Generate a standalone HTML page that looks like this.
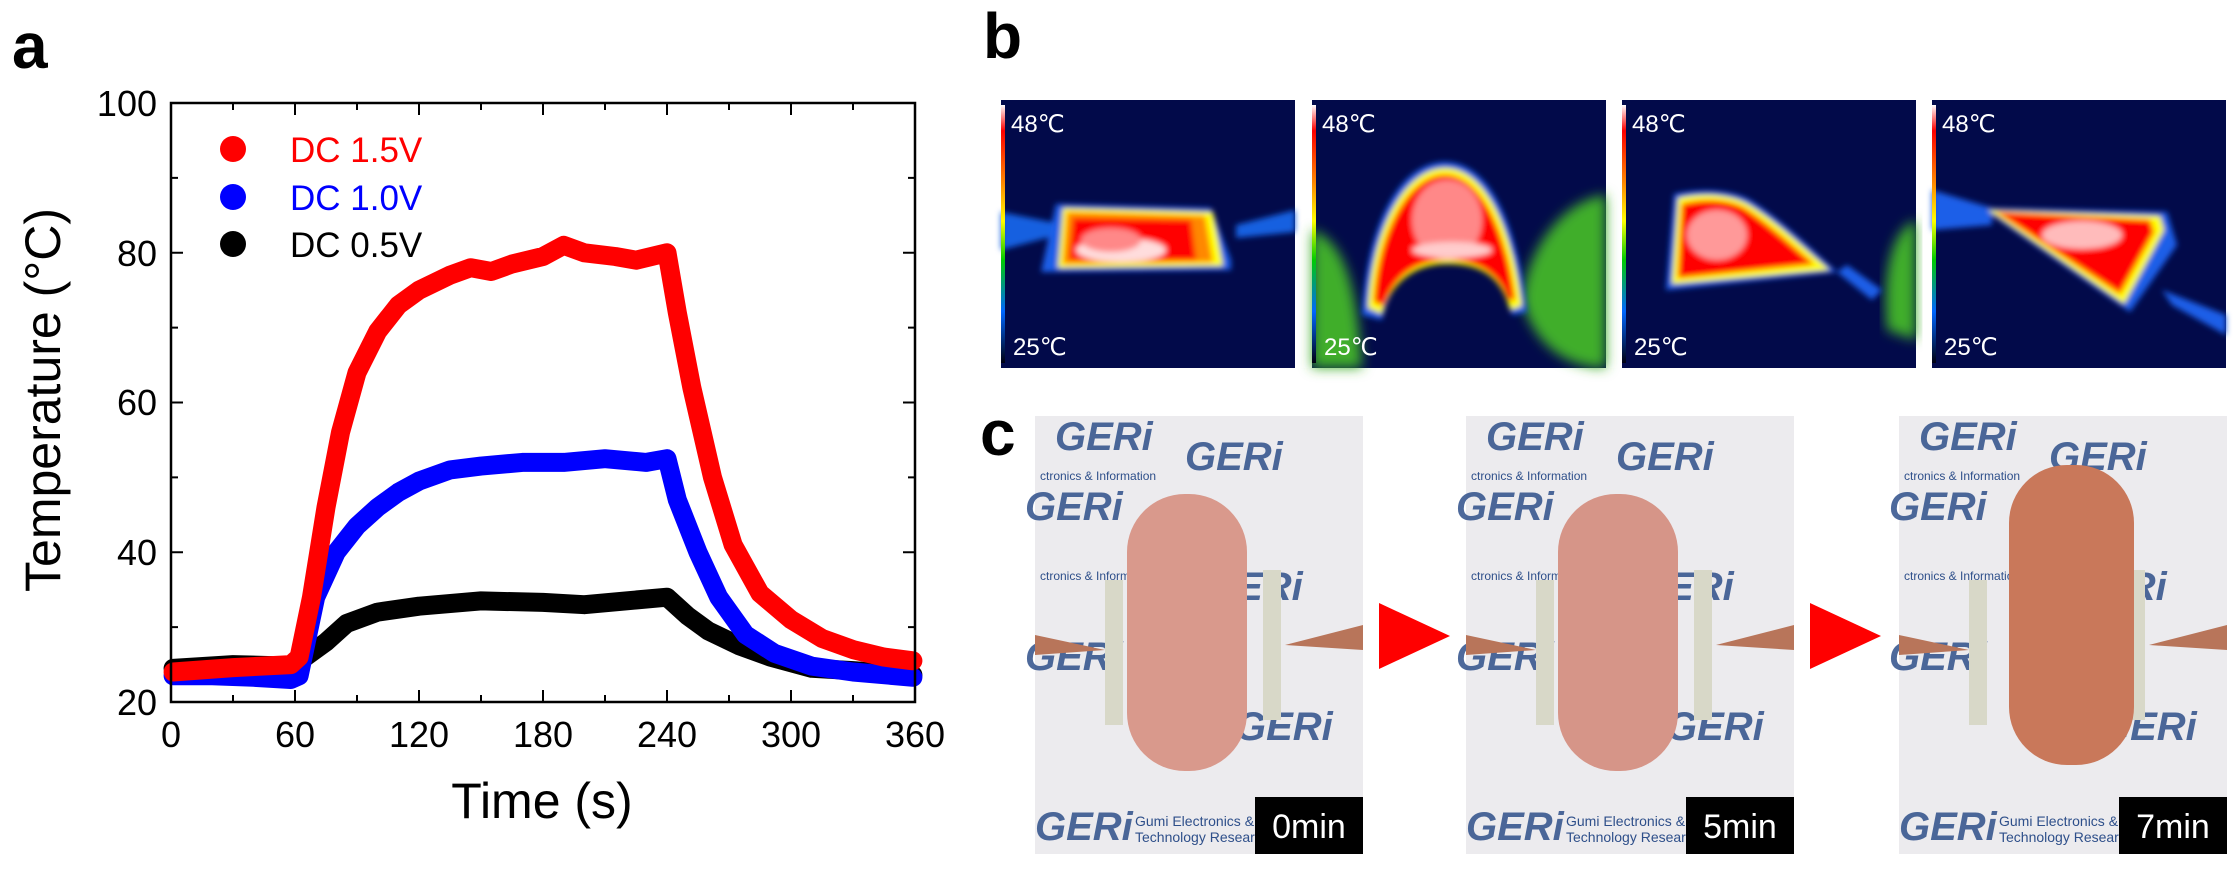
<!DOCTYPE html>
<html><head><meta charset="utf-8"><style>
body{margin:0;background:#fff;width:2238px;height:872px;overflow:hidden;position:relative;font-family:"Liberation Sans",sans-serif}
.abs{position:absolute}
</style></head><body>
<svg class="abs" style="left:0;top:0" width="2238" height="872" xmlns="http://www.w3.org/2000/svg">
<defs>
<filter id="bl" x="-20%" y="-20%" width="140%" height="140%"><feGaussianBlur stdDeviation="3"/></filter>
<filter id="bl2" x="-20%" y="-20%" width="140%" height="140%"><feGaussianBlur stdDeviation="6"/></filter>
<linearGradient id="cb" x1="0" y1="0" x2="0" y2="1">
<stop offset="0" stop-color="#fff"/><stop offset="0.1" stop-color="#f00"/><stop offset="0.3" stop-color="#f80"/><stop offset="0.45" stop-color="#ff0"/><stop offset="0.6" stop-color="#0c0"/><stop offset="0.8" stop-color="#06f"/><stop offset="1" stop-color="#001"/></linearGradient>
</defs>
<text x="12" y="68" font-size="64" font-weight="bold" font-family="Liberation Sans">a</text>
<g id="plot"></g>
<rect x="171" y="103" width="744" height="599" fill="none" stroke="#000" stroke-width="2.5"/>
<g id="ticks" stroke="#000" stroke-width="2"></g>
<g font-size="36" text-anchor="end" fill="#000">
<text x="157" y="715">20</text><text x="157" y="565">40</text><text x="157" y="415">60</text><text x="157" y="266">80</text><text x="157" y="116">100</text></g>
<g font-size="36" text-anchor="middle" fill="#000">
<text x="171" y="747">0</text><text x="295" y="747">60</text><text x="419" y="747">120</text><text x="543" y="747">180</text><text x="667" y="747">240</text><text x="791" y="747">300</text><text x="915" y="747">360</text></g>
<text x="542" y="818" font-size="50" text-anchor="middle">Time (s)</text>
<text transform="translate(60,400) rotate(-90)" font-size="50" text-anchor="middle">Temperature (°C)</text>
<circle cx="233" cy="149" r="13" fill="#f00"/><circle cx="233" cy="197" r="13" fill="#00f"/><circle cx="233" cy="244" r="13" fill="#000"/>
<g font-size="35"><text x="290" y="162" fill="#f00">DC 1.5V</text><text x="290" y="210" fill="#00f">DC 1.0V</text><text x="290" y="257" fill="#000">DC 0.5V</text></g>

<text x="983" y="58" font-size="64" font-weight="bold">b</text>
<g transform="translate(1001,100)">
<rect width="294" height="268" fill="#020a4a"/>
<g filter="url(#bl)">
<path d="M0,112 L60,124 L60,134 L0,150 Z" fill="#1560e0"/>
<path d="M294,110 L235,125 L235,138 L294,132 Z" fill="#1560e0"/>
<path d="M40,172 L230,170 L230,160 L210,108 L55,104 Z" fill="#1a5ee8"/>
<path d="M57,168 L222,166 L212,112 L62,108 Z" fill="#ff0"/>
<path d="M62,164 L212,162 L204,116 L66,112 Z" fill="#f80"/>
<path d="M68,160 L195,160 L190,120 L72,118 Z" fill="#f00"/>
<ellipse cx="120" cy="150" rx="45" ry="12" fill="#fdd"/>
<ellipse cx="110" cy="140" rx="30" ry="12" fill="#f88"/>
</g>
<rect x="0" y="5" width="4" height="258" fill="url(#cb)"/>
<text x="10" y="32" font-size="24" fill="#fff">48℃</text><text x="12" y="255" font-size="24" fill="#fff">25℃</text>
</g>
<g transform="translate(1312,100)">
<rect width="294" height="268" fill="#020a4a"/>
<g filter="url(#bl2)">
<path d="M0,130 C30,140 45,180 50,268 L0,268 Z" fill="#3fae2a"/>
<path d="M294,95 C250,100 215,150 210,200 C220,240 250,268 294,268 Z" fill="#3fae2a"/>
</g>
<g filter="url(#bl)">
<path d="M50,215 C55,120 90,62 133,62 C176,62 205,120 215,212 L200,215 C190,170 160,160 135,160 C105,160 80,175 70,220 Z" fill="#1a5ee8"/>
<path d="M56,208 C60,125 95,68 133,68 C172,68 200,125 210,206 L198,210 C188,170 160,164 135,164 C105,164 80,180 70,214 Z" fill="#ff0"/>
<path d="M62,202 C66,130 98,75 133,75 C168,75 194,130 203,200 L196,200 C186,170 160,160 135,160 C105,160 82,176 72,206 Z" fill="#f00"/>
<ellipse cx="135" cy="120" rx="35" ry="40" fill="#f88"/>
<ellipse cx="140" cy="150" rx="40" ry="8" fill="#fcc"/>
</g>
<rect x="0" y="5" width="4" height="258" fill="url(#cb)"/>
<text x="10" y="32" font-size="24" fill="#fff">48℃</text><text x="12" y="255" font-size="24" fill="#fff">25℃</text>
</g>
<g transform="translate(1622,100)">
<rect width="294" height="268" fill="#020a4a"/>
<g filter="url(#bl2)"><path d="M294,120 C270,130 260,170 265,230 L294,240 Z" fill="#3fae2a"/></g>
<g filter="url(#bl)">
<path d="M44,190 L52,94 C80,88 110,90 128,100 C160,120 190,150 215,172 Z" fill="#1a5ee8"/>
<path d="M215,172 L250,200 L260,190 L225,165 Z" fill="#1a5ee8"/>
<path d="M50,184 L56,98 C82,92 108,94 126,104 C156,122 184,150 208,170 Z" fill="#ff0"/>
<path d="M56,178 L60,104 C84,98 106,100 122,108 C150,126 172,148 192,164 Z" fill="#f00"/>
<ellipse cx="95" cy="135" rx="30" ry="25" fill="#f99"/>
</g>
<rect x="0" y="5" width="4" height="258" fill="url(#cb)"/>
<text x="10" y="32" font-size="24" fill="#fff">48℃</text><text x="12" y="255" font-size="24" fill="#fff">25℃</text>
</g>
<g transform="translate(1932,100)">
<rect width="294" height="268" fill="#020a4a"/>
<g filter="url(#bl)">
<path d="M0,90 L60,108 L60,125 L0,130 Z" fill="#1a5ee8"/>
<path d="M230,190 L294,215 L294,235 L240,205 Z" fill="#1a5ee8"/>
<path d="M50,108 L235,112 L245,145 L198,212 Z" fill="#1a5ee8"/>
<path d="M56,110 L228,116 L232,130 L192,204 Z" fill="#ff0"/>
<path d="M64,112 L218,120 L222,132 L188,194 Z" fill="#f00"/>
<ellipse cx="150" cy="135" rx="40" ry="14" fill="#fbb"/>
</g>
<rect x="0" y="5" width="4" height="258" fill="url(#cb)"/>
<text x="10" y="32" font-size="24" fill="#fff">48℃</text><text x="12" y="255" font-size="24" fill="#fff">25℃</text>
</g>

<text x="980" y="455" font-size="64" font-weight="bold">c</text>
<g id="photos"></g>
<polygon points="1379,603 1450,636 1379,669" fill="#f00"/>
<polygon points="1810,603 1881,636 1810,669" fill="#f00"/>
</svg>
<script>
var NS="http://www.w3.org/2000/svg";
function X(t){return 171+t*744/360}
function Y(v){return 702-(v-20)*599/80}
function series(pts,c){var d="";pts.forEach(function(p,i){d+=(i?"L":"M")+X(p[0]).toFixed(1)+","+Y(p[1]).toFixed(1)});
var e=document.createElementNS(NS,"path");e.setAttribute("d",d);e.setAttribute("fill","none");e.setAttribute("stroke",c);e.setAttribute("stroke-width","19");e.setAttribute("stroke-linejoin","round");e.setAttribute("stroke-linecap","round");document.getElementById("plot").appendChild(e);}
series([[1,24.5],[30,25],[58,24.8],[65,26],[75,28],[85,30.5],[100,32],[120,32.8],[150,33.5],[180,33.3],[200,33],[220,33.5],[240,34],[250,31.5],[260,29.5],[275,27.5],[290,26],[310,24.5],[330,24.2],[359,23.6]],"#000");
series([[1,23.5],[20,23.5],[40,23.3],[58,23],[62,23.5],[70,34],[80,40],[90,43.5],[100,46],[110,48],[120,49.5],[135,51],[150,51.5],[170,52],[190,52],[210,52.5],[230,52],[240,52.5],[245,47],[255,40],[265,34],[278,29],[292,26.5],[310,24.8],[330,24],[359,23.3]],"#00f");
series([[1,24],[30,24.6],[58,25],[62,26],[68,34],[75,46],[82,56],[90,64],[100,69.5],[110,73],[120,75],[135,77],[145,78],[155,77.5],[165,78.5],[180,79.5],[190,81],[200,80],[215,79.5],[225,79],[240,80],[245,72],[252,62],[262,50],[272,41],[285,34.5],[300,31],[315,28.5],[330,27],[345,26],[359,25.5]],"#f00");
var tk=document.getElementById("ticks");
function ln(a,b,c,d){var l=document.createElementNS(NS,"line");l.setAttribute("x1",a);l.setAttribute("y1",b);l.setAttribute("x2",c);l.setAttribute("y2",d);tk.appendChild(l);}
for(var t=0;t<=360;t+=30){var x=X(t),L=(t%60==0)?12:7;ln(x,702,x,702-L);ln(x,103,x,103+L);}
for(var v=20;v<=100;v+=10){var y=Y(v),L=(v%20==0)?12:7;ln(171,y,171+L,y);ln(915,y,915-L,y);}
var ph=document.getElementById("photos");
var P=[[1035,"0min","#d9998c"],[1466,"5min","#d69588"],[1899,"7min","#c9785a"]];
var h="";
P.forEach(function(p,i){var x=p[0],w=328;
h+='<rect x="'+x+'" y="416" width="'+w+'" height="438" fill="#ecebee"/>';
var labs=[[20,450,"GERi"],[150,470,"GERi"],[-10,520,"GERi"],[170,600,"GERi"],[-10,670,"GERi"],[200,740,"GERi"],[0,840,"GERi"]];
labs.forEach(function(l){h+='<text x="'+(x+l[0])+'" y="'+l[1]+'" font-size="40" font-weight="bold" font-style="italic" fill="#2e4f8a" opacity="0.85">'+l[2]+'</text>';});
h+='<text x="'+(x+5)+'" y="480" font-size="12" fill="#2e4f8a">ctronics &amp; Information</text>';
h+='<text x="'+(x+5)+'" y="580" font-size="12" fill="#2e4f8a">ctronics &amp; Information</text>';
h+='<text x="'+(x+100)+'" y="826" font-size="14" fill="#2e4f8a">Gumi Electronics &amp; Information</text>';
h+='<text x="'+(x+100)+'" y="842" font-size="14" fill="#2e4f8a">Technology Research Institute</text>';
h+='<rect x="'+(x+70)+'" y="580" width="18" height="145" fill="#d8d8c8"/><rect x="'+(x+228)+'" y="570" width="18" height="150" fill="#d8d8c8"/>';
h+='<path d="M'+x+',635 L'+(x+70)+',650 L'+x+',655Z" fill="#b8755a"/><path d="M'+(x+w)+',625 L'+(x+250)+',645 L'+(x+w)+',650Z" fill="#b8755a"/>';
var mx=(i==2)?x+110:x+92,mw=(i==2)?125:120,my=(i==2)?465:494,mh=(i==2)?300:277;
h+='<rect x="'+mx+'" y="'+my+'" width="'+mw+'" height="'+mh+'" rx="58" fill="'+p[2]+'"/>';
h+='<rect x="'+(x+w-108)+'" y="797" width="108" height="57" fill="#000"/>';
h+='<text x="'+(x+w-54)+'" y="838" font-size="34" fill="#fff" text-anchor="middle">'+p[1]+'</text>';
});
ph.innerHTML=h;
</script>
</body></html>
